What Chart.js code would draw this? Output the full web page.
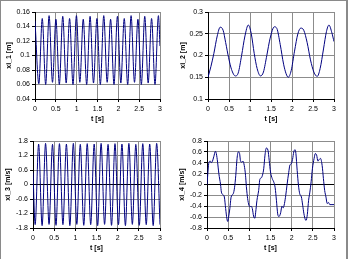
<!DOCTYPE html>
<html>
<head>
<meta charset="utf-8">
<script src="https://cdn.jsdelivr.net/npm/chart.js@4.4.1/dist/chart.umd.min.js"></script>
<style>
  html, body { margin: 0; padding: 0; background: #fff; }
  #frame { position: absolute; left: 0; top: 0; width: 345px; height: 270px;
           border-left: 1px solid #8a8a8a; border-top: 1px solid #8a8a8a; border-right: 2px solid #8a8a8a; }
  .box { position: absolute; width: 174px; height: 129px; }
</style>
</head>
<body>
<div id="frame"></div>
<div class="box" style="left:0;top:0"><canvas id="c1" width="174" height="129"></canvas></div>
<div class="box" style="left:174px;top:0"><canvas id="c2" width="174" height="129"></canvas></div>
<div class="box" style="left:0;top:129px"><canvas id="c3" width="174" height="129"></canvas></div>
<div class="box" style="left:174px;top:129px"><canvas id="c4" width="174" height="129"></canvas></div>
<script>
// xi_1 [m] - peaks and troughs
const t1 = [0, 0.092, 0.174, 0.256, 0.338, 0.420, 0.502, 0.584, 0.666, 0.748, 0.830, 0.912, 0.994, 1.076,
  1.158, 1.240, 1.322, 1.404, 1.486, 1.568, 1.650, 1.732, 1.814, 1.896, 1.978, 2.060, 2.142, 2.224,
  2.306, 2.388, 2.470, 2.552, 2.634, 2.716, 2.798, 2.880, 2.962, 3.0];
const xi1 = [0.148, 0.061, 0.151, 0.060, 0.155, 0.063, 0.150, 0.060, 0.154, 0.062, 0.151, 0.060, 0.155, 0.063,
  0.150, 0.060, 0.154, 0.062, 0.151, 0.060, 0.155, 0.063, 0.150, 0.060, 0.154, 0.062, 0.151, 0.060,
  0.155, 0.063, 0.150, 0.060, 0.154, 0.062, 0.151, 0.060, 0.155, 0.113];

// xi_2 [m]
const t2 = [0, 0.07, 0.14, 0.22, 0.29, 0.36, 0.42, 0.49, 0.56, 0.65, 0.72, 0.80, 0.88, 0.96, 1.03, 1.10,
  1.17, 1.25, 1.32, 1.40, 1.48, 1.58, 1.64, 1.72, 1.80, 1.86, 1.91, 1.98, 2.06, 2.14, 2.21, 2.28,
  2.36, 2.44, 2.52, 2.60, 2.67, 2.75, 2.82, 2.88, 2.95, 3.0];
const xi2 = [0.150, 0.175, 0.205, 0.245, 0.265, 0.258, 0.230, 0.195, 0.168, 0.153, 0.160, 0.200, 0.245, 0.270, 0.250, 0.205,
  0.170, 0.153, 0.162, 0.200, 0.240, 0.266, 0.262, 0.225, 0.180, 0.158, 0.150, 0.165, 0.210, 0.250, 0.263, 0.258,
  0.230, 0.190, 0.162, 0.152, 0.170, 0.215, 0.255, 0.270, 0.252, 0.232];

// xi_3 [m/s]
const t3 = [0, 0.051, 0.133, 0.215, 0.297, 0.379, 0.461, 0.543, 0.625, 0.707, 0.789, 0.871, 0.953, 1.035,
  1.117, 1.199, 1.281, 1.363, 1.445, 1.527, 1.609, 1.691, 1.773, 1.855, 1.937, 2.019, 2.101, 2.183,
  2.265, 2.347, 2.429, 2.511, 2.593, 2.675, 2.757, 2.839, 2.921, 3.0];
const xi3 = [0.5, -1.66, 1.67, -1.70, 1.70, -1.65, 1.66, -1.69, 1.69, -1.66, 1.67, -1.70, 1.70, -1.65,
  1.66, -1.69, 1.69, -1.66, 1.67, -1.70, 1.70, -1.65, 1.66, -1.69, 1.69, -1.66, 1.67, -1.70,
  1.70, -1.65, 1.66, -1.69, 1.69, -1.66, 1.67, -1.70, 1.70, -1.66];

// xi_4 [m/s]
const t4 = [0, 0.047, 0.08, 0.10, 0.13, 0.16, 0.20, 0.22, 0.25, 0.28, 0.32, 0.34, 0.38, 0.41, 0.44, 0.47,
  0.49, 0.51, 0.54, 0.57, 0.62, 0.65, 0.68, 0.71, 0.74, 0.77, 0.79, 0.82, 0.85, 0.88, 0.91, 0.93,
  0.96, 0.99, 1.01, 1.04, 1.07, 1.10, 1.13, 1.15, 1.18, 1.22, 1.25, 1.28, 1.31, 1.34, 1.37, 1.40,
  1.44, 1.47, 1.50, 1.54, 1.58, 1.61, 1.64, 1.67, 1.70, 1.74, 1.77, 1.80, 1.83, 1.86, 1.89, 1.93,
  1.96, 1.99, 2.02, 2.05, 2.08, 2.10, 2.13, 2.16, 2.19, 2.23, 2.26, 2.29, 2.32, 2.34, 2.37, 2.40,
  2.43, 2.46, 2.49, 2.53, 2.56, 2.59, 2.62, 2.65, 2.68, 2.72, 2.75, 2.78, 2.81, 2.84, 2.87, 2.90,
  2.93, 3.0];
const xi4 = [0.0, 0.41, 0.43, 0.40, 0.43, 0.51, 0.61, 0.57, 0.41, 0.20, 0.0, -0.14, -0.19, -0.23, -0.44, -0.63,
  -0.68, -0.60, -0.44, -0.23, -0.17, -0.06, 0.17, 0.48, 0.60, 0.57, 0.44, 0.41, 0.43, 0.35, 0.17, -0.04,
  -0.26, -0.38, -0.41, -0.40, -0.44, -0.58, -0.62, -0.51, -0.29, -0.11, 0.10, 0.12, 0.17, 0.29, 0.54, 0.67,
  0.63, 0.44, 0.23, 0.11, 0.04, -0.06, -0.29, -0.54, -0.59, -0.52, -0.40, -0.43, -0.35, -0.20, -0.01, 0.22,
  0.36, 0.38, 0.46, 0.60, 0.64, 0.57, 0.26, -0.01, -0.17, -0.23, -0.38, -0.54, -0.64, -0.66, -0.55, -0.29,
  -0.14, 0.05, 0.29, 0.48, 0.57, 0.54, 0.43, 0.46, 0.48, 0.35, 0.11, -0.11, -0.23, -0.35, -0.33, -0.37,
  -0.37, -0.37];

// axis ranges (min, max, step) and labels
const xRange = [0, 3, 0.5];
const yRange1 = [0.04, 0.16, 0.02];
const yRange2 = [0.1, 0.3, 0.05];
const yRange3 = [-1.8, 1.8, 0.6];
const yRange4 = [-0.8, 0.8, 0.2];
const xTitle = 't [s]';
const yTitles = ['xi_1 [m]', 'xi_2 [m]', 'xi_3 [m/s]', 'xi_4 [m/s]'];

Chart.defaults.font.family = 'Liberation Sans, Arial, sans-serif';
Chart.defaults.font.size = 7;
Chart.defaults.color = '#000';

// excel style numbers: 0.1 not 0.10, 1 not 1.0
const fmt = v => String(Math.round(v * 1000) / 1000);

function makeChart(id, t, v, yr, yTitle, leftPad, yWidth) {
    const pts = t.map((x, i) => ({ x: x, y: v[i] }));
    new Chart(document.getElementById(id), {
        type: 'line',
        data: { datasets: [{ data: pts, borderColor: '#000080', borderWidth: 1, pointRadius: 0,
                             cubicInterpolationMode: 'monotone', fill: false }] },
        options: {
            responsive: false,
            animation: false,
            events: [],
            layout: { padding: { left: leftPad, right: 14, top: 12, bottom: 2 } },
            plugins: { legend: { display: false }, tooltip: { enabled: false } },
            scales: {
                x: {
                    type: 'linear', min: xRange[0], max: xRange[1],
                    ticks: { stepSize: xRange[2], padding: 3, maxRotation: 0, autoSkip: false, callback: fmt },
                    grid: { color: '#8c8c8c', tickLength: 3, tickColor: '#000' },
                    border: { color: '#000' },
                    title: { display: true, text: xTitle, font: { weight: 'bold' }, padding: { top: 2, bottom: 4 } },
                    afterFit: s => { s.height = 28; }
                },
                y: {
                    min: yr[0], max: yr[1],
                    ticks: { stepSize: yr[2], padding: 2, autoSkip: false, callback: fmt },
                    grid: { color: c => (c.tick && c.tick.value === 0 ? '#000' : '#8c8c8c'), tickLength: 3, tickColor: '#000' },
                    border: { color: '#000' },
                    title: { display: true, text: yTitle, font: { weight: 'bold' }, padding: { top: 0, bottom: 0 } },
                    afterFit: s => { s.width = yWidth; }
                }
            }
        }
    });
}

makeChart('c1', t1, xi1, yRange1, yTitles[0], 5, 30);
makeChart('c2', t2, xi2, yRange2, yTitles[1], 5, 29);
makeChart('c3', t3, xi3, yRange3, yTitles[2], 4, 29);
makeChart('c4', t4, xi4, yRange4, yTitles[3], 4, 29);
</script>
</body>
</html>
